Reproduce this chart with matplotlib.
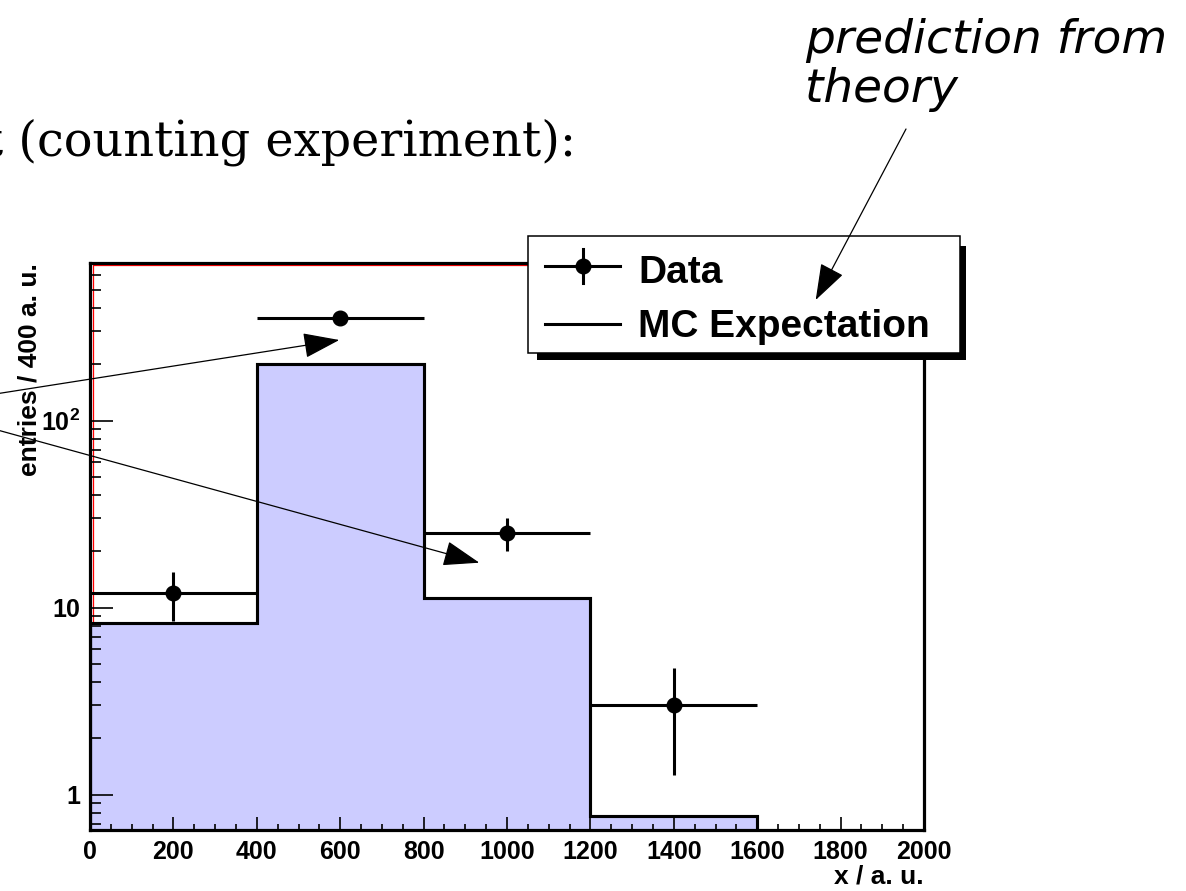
import numpy as np
import matplotlib
matplotlib.use("Agg")
import matplotlib.pyplot as plt
from matplotlib.lines import Line2D
from matplotlib.patches import Rectangle, FancyArrowPatch
from matplotlib.ticker import FixedLocator, FixedFormatter, MultipleLocator

# bins and contents
edges = [0, 400, 800, 1200, 1600, 2000]
mc_expect = [8.3, 200, 11.3, 0.77, 0]
data_x = [200, 600, 1000, 1400]
data_n = [12, 354, 25, 3]
data_xerr = 200

plt.rcParams['font.family'] = ['Liberation Sans', 'DejaVu Sans']
plt.rcParams['font.weight'] = 'bold'
plt.rcParams['mathtext.fontset'] = 'custom'
plt.rcParams['mathtext.rm'] = 'Liberation Sans:bold'
plt.rcParams['mathtext.bf'] = 'Liberation Sans:bold'

W, H = 1186, 891
fig = plt.figure(figsize=(W / 100, H / 100), dpi=100)

def fx(x):
    return x / W

def fy(y):
    return 1 - y / H

# axes frame in pixels: left 90, right 924, top 263, bottom 830
ax = fig.add_axes([fx(90), fy(830), (924 - 90) / W, (830 - 263) / H])
ax.set_yscale('log', nonpositive='clip')
ax.set_xlim(0, 2000)
ax.set_ylim(0.647, 697)

# red inner line on left and top edge
ax.plot([0.003, 0.003, 1], [0, 0.996, 0.996], transform=ax.transAxes,
        color='red', lw=0.9, zorder=0.5, clip_on=False)

# MC histogram
ax.stairs(mc_expect, edges, baseline=1e-3, fill=True,
          facecolor='#ccccff', edgecolor='black', lw=2.2, zorder=1)
ax.stairs(mc_expect, edges, baseline=1e-3, fill=False,
          color='black', lw=2.2, zorder=1.1)

# data with poisson errors
ax.errorbar(data_x, data_n, xerr=data_xerr, yerr=np.sqrt(data_n), fmt='o',
            color='black', ms=10.5, elinewidth=2.2, capsize=0, zorder=3)

for s in ax.spines.values():
    s.set_linewidth(2.3)
    s.set_zorder(4)

ax.xaxis.set_major_locator(MultipleLocator(200))
ax.xaxis.set_minor_locator(MultipleLocator(50))
ax.yaxis.set_major_locator(FixedLocator([1, 10, 100]))
ax.yaxis.set_major_formatter(FixedFormatter(['1', '10', r'$10^{2}$']))
ax.yaxis.set_minor_locator(matplotlib.ticker.LogLocator(subs=np.arange(2, 10)))
ax.yaxis.set_minor_formatter(matplotlib.ticker.NullFormatter())

ax.tick_params(axis='x', which='major', direction='in', length=9.5, width=1.2,
               labelsize=18, pad=7)
ax.tick_params(axis='x', which='minor', direction='in', length=4, width=1.2)
ax.tick_params(axis='y', which='major', direction='in', length=16.5, width=1.2,
               labelsize=18, pad=7)
ax.tick_params(axis='y', which='minor', direction='in', length=8, width=1.2)

ax.set_xlabel('x / a. u.', fontsize=19, fontweight='bold', loc='right')
ax.xaxis.set_label_coords(1.0, (830 - 865) / 567)
ax.set_ylabel('entries / 400 a. u.', fontsize=19, fontweight='bold', loc='top')
ax.yaxis.set_label_coords((42 - 90) / 834, 1.0)

# legend box with black shadow
fig.patches.append(Rectangle((fx(537), fy(360)), (966 - 537) / W, (360 - 246) / H,
                             transform=fig.transFigure, facecolor='black',
                             edgecolor='none', zorder=5))
fig.patches.append(Rectangle((fx(528), fy(353)), (960 - 528) / W, (353 - 236) / H,
                             transform=fig.transFigure, facecolor='white',
                             edgecolor='black', lw=1.1, zorder=6))
fig.lines.append(Line2D([fx(545), fx(620)], [fy(266), fy(266)], transform=fig.transFigure,
                        color='black', lw=2.2, zorder=7))
fig.lines.append(Line2D([fx(583), fx(583)], [fy(249), fy(283)], transform=fig.transFigure,
                        color='black', lw=2.2, zorder=7))
fig.lines.append(Line2D([fx(583)], [fy(266)], transform=fig.transFigure, marker='o',
                        ms=10.5, color='black', zorder=7))
fig.lines.append(Line2D([fx(545), fx(620)], [fy(324), fy(324)], transform=fig.transFigure,
                        color='black', lw=2.2, zorder=7))
fig.text(fx(638), fy(283), 'Data', fontsize=28, fontweight='bold', va='baseline',
         ha='left', zorder=7)
fig.text(fx(638), fy(337), 'MC Expectation', fontsize=28, fontweight='bold',
         va='baseline', ha='left', zorder=7)

# slide texts
fig.text(fx(576), fy(155), 't (counting experiment):', family=['DejaVu Serif'],
         fontsize=34.4, fontweight='normal', ha='right', va='baseline')
fig.text(fx(805), fy(53), 'prediction from', family=['DejaVu Sans'], style='oblique',
         fontsize=33.8, fontweight='normal', ha='left', va='baseline')
fig.text(fx(805), fy(102), 'theory', family=['DejaVu Sans'], style='oblique',
         fontsize=33.8, fontweight='normal', ha='left', va='baseline')

# arrows on top of everything
arrows = [((906, 129), (815.7, 300)),
          ((-20, 396.4), (339.3, 340)),
          ((-20, 425.2), (479.3, 562.7))]
for (x0, y0), (x1, y1) in arrows:
    arr = FancyArrowPatch((fx(x0), fy(y0)), (fx(x1), fy(y1)),
                          transform=fig.transFigure,
                          arrowstyle='-|>,head_length=1.15,head_width=0.4',
                          mutation_scale=20, lw=0.9, color='black',
                          shrinkA=0, shrinkB=0, zorder=8)
    fig.add_artist(arr)

fig.savefig('out.png', dpi=100)
